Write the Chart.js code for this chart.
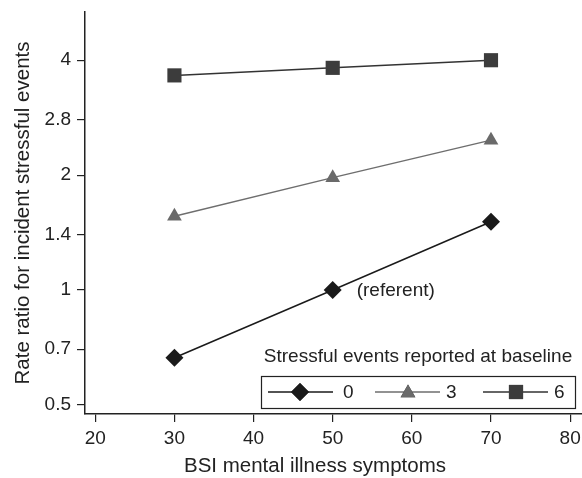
<!DOCTYPE html>
<html lang="en">
<head>
<meta charset="UTF-8">
<title>Rate ratio by BSI symptoms</title>
<script src="https://cdn.jsdelivr.net/npm/chart.js"></script>
<style>
  body { margin: 0; background: #fff; }
  #box { width: 582px; height: 478px; position: relative; }
</style>
</head>
<body>
<div id="box"><canvas id="grafico"></canvas></div>
<script>
  // BSI score at which rate ratios were estimated
  const bsiScores = [30, 50, 70];
  // rate ratios for each baseline stressful-events level
  const events0 = [0.665, 1.0, 1.51];
  const events3 = [1.56, 1.97, 2.47];
  const events6 = [3.65, 3.82, 4.0];
  const seriesNames = ['0', '3', '6'];
  const xTicks = [20, 30, 40, 50, 60, 70, 80];
  const yTicks = [0.5, 0.7, 1, 1.4, 2, 2.8, 4];

  const ink = '#222';
  const fonte = 'Liberation Sans, Arial, Helvetica, sans-serif';

  function pares(vals) {
    return vals.map((v, i) => ({ x: bsiScores[i], y: v }));
  }

  // legend box, x title and "(referent)" note
  const notas = {
    id: 'notas',
    afterDraw(chart) {
      const c = chart.ctx;
      const xs = chart.scales.x, ys = chart.scales.y;
      c.save();
      c.fillStyle = ink;
      c.textBaseline = 'middle';

      // x title sits a bit left of the plot centre in the original
      c.font = '20.5px ' + fonte;
      c.textAlign = 'center';
      c.fillText('BSI mental illness symptoms', 315, 466);

      c.font = '19px ' + fonte;
      c.textAlign = 'left';
      c.fillText('(referent)', xs.getPixelForValue(50) + 24, ys.getPixelForValue(1) + 1);

      const left = 261, right = 575, top = 376, bottom = 408;
      c.textAlign = 'center';
      c.fillText('Stressful events reported at baseline', (left + right) / 2, 357);
      c.strokeStyle = ink;
      c.lineWidth = 1.2;
      c.strokeRect(left + 0.5, top + 0.5, right - left, bottom - top);

      const midY = (top + bottom) / 2;
      const itens = [[268, 333, 300, 343], [375, 440, 408, 446], [483, 548, 516, 554]];
      chart.data.datasets.forEach((ds, i) => {
        const [a, b, m, t] = itens[i];
        c.strokeStyle = ds.borderColor;
        c.lineWidth = ds.borderWidth;
        c.beginPath();
        c.moveTo(a, midY);
        c.lineTo(b, midY);
        c.stroke();
        Chart.helpers.drawPoint(c, {
          pointStyle: ds.pointStyle,
          radius: ds.pointRadius,
          borderWidth: 0
        }, m, midY + (ds.pointStyle === 'triangle' ? 1 : 0));
        c.fillStyle = ds.pointBackgroundColor;
        c.fill();
        c.fillStyle = ink;
        c.textAlign = 'left';
        c.fillText(ds.label, t, midY + 1);
      });
      c.restore();
    }
  };

  new Chart(document.getElementById('grafico'), {
    type: 'line',
    data: {
      datasets: [{
        label: seriesNames[0],
        data: pares(events0),
        borderColor: '#1a1a1a',
        borderWidth: 1.5,
        pointStyle: 'rectRot',
        pointRadius: 9,
        pointBorderWidth: 0,
        pointBackgroundColor: '#1a1a1a'
      }, {
        label: seriesNames[1],
        data: pares(events3),
        borderColor: '#6e6e6e',
        borderWidth: 1.5,
        pointStyle: 'triangle',
        pointRadius: 8.5,
        pointBorderWidth: 0,
        pointBackgroundColor: '#6a6a6a'
      }, {
        label: seriesNames[2],
        data: pares(events6),
        borderColor: '#333',
        borderWidth: 1.5,
        pointStyle: 'rect',
        pointRadius: 10,
        pointBorderWidth: 0,
        pointBackgroundColor: '#3c3c3c'
      }]
    },
    options: {
      responsive: true,
      maintainAspectRatio: false,
      animation: false,
      layout: { autoPadding: false, padding: { top: 12, right: 0, left: 0, bottom: 0 } },
      plugins: { legend: { display: false }, tooltip: { enabled: false } },
      scales: {
        x: {
          type: 'linear',
          min: 18.7,
          max: 81.5,
          afterBuildTicks: s => { s.ticks = xTicks.map(v => ({ value: v })); },
          afterFit: s => { s.height = 64; s.paddingLeft = 0; s.paddingRight = 0; },
          grid: { drawOnChartArea: false, color: ink, tickLength: 8, lineWidth: 1.2 },
          border: { color: ink, width: 1.5 },
          ticks: { color: ink, font: { family: fonte, size: 19 }, padding: 5, maxRotation: 0 },
          title: { display: false }
        },
        y: {
          type: 'logarithmic',
          min: 0.4735,
          max: 5.35,
          afterBuildTicks: s => { s.ticks = yTicks.map(v => ({ value: v })); },
          afterFit: s => { s.width = 85; s.paddingTop = 0; s.paddingBottom = 0; },
          grid: { drawOnChartArea: false, color: ink, tickLength: 8, lineWidth: 1.2 },
          border: { color: ink, width: 1.5 },
          ticks: { color: ink, font: { family: fonte, size: 19 }, padding: 6,
                   callback: v => String(v) },
          title: { display: true, text: 'Rate ratio for incident stressful events', color: ink,
                   font: { family: fonte, size: 20.5 }, padding: { top: 11, bottom: 0 } }
        }
      }
    },
    plugins: [notas]
  });
</script>
</body>
</html>
